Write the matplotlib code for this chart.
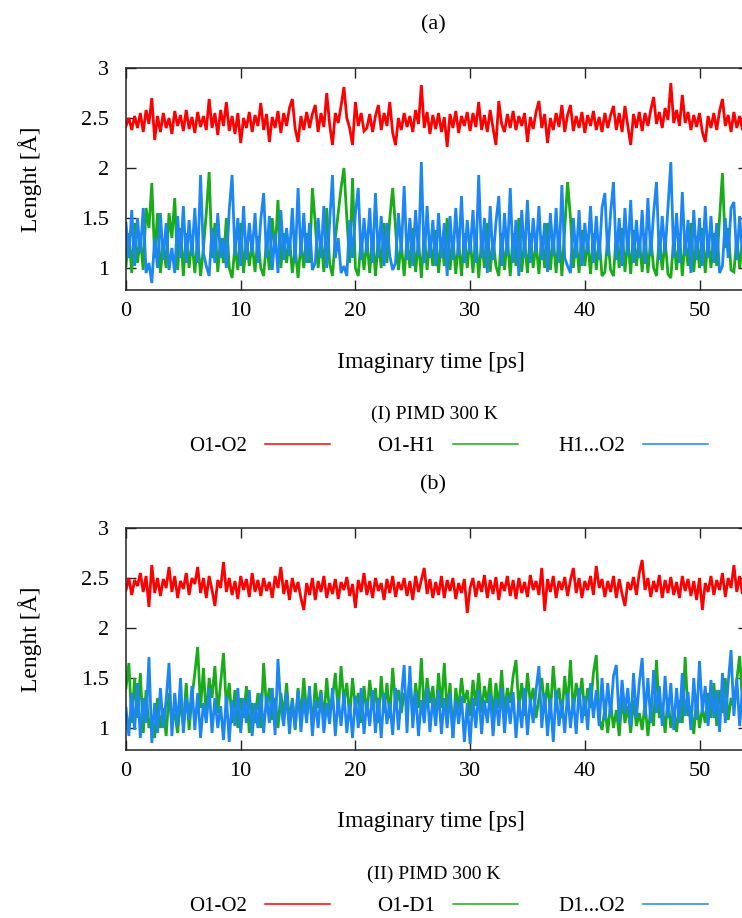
import numpy as np
import matplotlib
matplotlib.use("Agg")
import matplotlib.pyplot as plt

plt.rcParams["font.family"] = ["Liberation Serif", "DejaVu Serif"]

# ---- data (bond lengths in Angstrom, 0.25 ps steps) ----
T_END = 54.0

a_o1o2 = [
    2.42, 2.50, 2.38, 2.52, 2.40, 2.55, 2.36, 2.58, 2.44, 2.70, 2.28, 2.52,
    2.36, 2.55, 2.40, 2.50, 2.34, 2.57, 2.42, 2.53, 2.37, 2.58, 2.39, 2.51,
    2.35, 2.56, 2.41, 2.52, 2.38, 2.69, 2.40, 2.55, 2.33, 2.58, 2.42, 2.66,
    2.37, 2.52, 2.34, 2.55, 2.25, 2.50, 2.40, 2.56, 2.36, 2.53, 2.42, 2.65,
    2.38, 2.54, 2.26, 2.51, 2.40, 2.57, 2.35, 2.55, 2.42, 2.60, 2.69, 2.39,
    2.26, 2.52, 2.38, 2.56, 2.40, 2.54, 2.63, 2.36, 2.55, 2.41, 2.75, 2.44,
    2.23, 2.55, 2.45, 2.62, 2.81, 2.50, 2.40, 2.23, 2.66, 2.42, 2.55, 2.37,
    2.40, 2.54, 2.36, 2.52, 2.63, 2.38, 2.55, 2.42, 2.66, 2.35, 2.23, 2.50,
    2.38, 2.55, 2.41, 2.52, 2.36, 2.58, 2.44, 2.83, 2.40, 2.56, 2.34, 2.53,
    2.39, 2.55, 2.36, 2.51, 2.21, 2.54, 2.40, 2.57, 2.35, 2.52, 2.42, 2.56,
    2.37, 2.55, 2.41, 2.66, 2.38, 2.53, 2.36, 2.58, 2.40, 2.23, 2.67, 2.44,
    2.36, 2.54, 2.40, 2.57, 2.38, 2.52, 2.42, 2.55, 2.26, 2.51, 2.39, 2.56,
    2.67, 2.40, 2.54, 2.25, 2.50, 2.38, 2.55, 2.41, 2.63, 2.36, 2.53, 2.63,
    2.37, 2.52, 2.40, 2.56, 2.35, 2.53, 2.42, 2.57, 2.38, 2.51, 2.36, 2.55,
    2.40, 2.53, 2.62, 2.38, 2.55, 2.36, 2.62, 2.42, 2.23, 2.54, 2.40, 2.56,
    2.37, 2.55, 2.42, 2.58, 2.71, 2.44, 2.56, 2.40, 2.60, 2.48, 2.85, 2.45,
    2.58, 2.42, 2.73, 2.45, 2.56, 2.38, 2.53, 2.41, 2.55, 2.36, 2.26, 2.52,
    2.40, 2.55, 2.38, 2.57, 2.69, 2.42, 2.53, 2.36, 2.56, 2.40, 2.52, 2.38,
    2.45,
]

a_o1h1 = [
    1.02, 1.35, 0.95, 1.45, 1.05, 1.30, 0.98, 1.60, 1.40, 1.85, 1.10, 1.55,
    0.95, 1.25, 1.00, 1.55, 1.30, 1.70, 0.98, 1.40, 0.92, 1.35, 1.00, 1.28,
    0.95, 1.30, 0.92, 1.20, 1.55, 1.96, 1.10, 1.45, 0.96, 1.30, 1.05, 1.50,
    1.00, 0.90, 1.22, 0.98, 1.45, 0.95, 1.30, 1.02, 1.25, 0.96, 1.32, 1.00,
    0.92, 1.28, 0.98, 1.50, 1.15, 1.68, 1.00, 1.35, 1.05, 1.30, 0.95, 1.20,
    0.90, 1.25, 1.00, 1.35, 1.05, 1.80, 1.45, 1.00, 1.30, 0.96, 1.60, 1.05,
    0.92, 1.30, 1.55, 1.80, 2.00, 1.50, 1.05, 1.90, 1.00, 0.92, 1.30, 0.98,
    1.28, 0.95, 1.35, 0.92, 1.30, 1.00, 1.45, 1.05, 1.50, 1.80, 1.40, 0.98,
    1.25, 0.92, 1.30, 1.00, 1.40, 0.96, 1.28, 0.90, 1.35, 0.98, 1.30, 1.02,
    1.38, 0.95, 1.30, 1.02, 1.50, 0.98, 1.32, 0.94, 1.28, 0.92, 1.35, 1.00,
    1.30, 0.95, 1.35, 0.90, 1.28, 1.00, 1.45, 0.96, 1.30, 1.02, 0.92, 1.35,
    0.98, 1.30, 0.92, 1.35, 1.02, 1.50, 0.96, 1.28, 0.95, 1.35, 1.00, 1.25,
    0.94, 1.32, 1.00, 1.45, 0.98, 1.30, 0.95, 1.36, 0.92, 1.40, 1.86, 1.50,
    1.00, 1.30, 0.95, 1.38, 1.02, 1.28, 0.94, 1.35, 0.98, 1.30, 0.92, 0.96,
    1.30, 0.98, 0.92, 1.35, 1.00, 1.40, 0.96, 1.30, 0.94, 1.38, 1.02, 1.30,
    0.96, 1.35, 0.95, 1.30, 1.00, 0.92, 1.32, 0.98, 1.28, 0.94, 0.90, 1.30,
    0.98, 1.35, 0.92, 1.30, 1.02, 1.45, 0.96, 1.32, 1.00, 1.40, 0.95, 1.30,
    1.00, 1.35, 1.02, 1.50, 1.95, 1.20, 1.40, 0.98, 0.96, 1.30, 1.00, 1.28,
    1.05,
]

a_h1o2 = [
    1.45, 1.10, 1.58, 1.02, 1.50, 1.15, 1.60, 0.95, 1.05, 0.85, 1.30, 1.00,
    1.55, 1.08, 1.45, 0.98, 1.20, 0.95, 1.52, 1.10, 1.62, 1.05, 1.48, 1.12,
    1.60, 1.05, 1.93, 1.15, 1.02, 0.92, 1.40, 1.05, 1.55, 1.10, 1.30, 1.00,
    1.58, 1.93, 1.12, 1.50, 1.02, 1.62, 1.08, 1.45, 1.15, 1.55, 1.05, 1.48,
    1.75, 1.10, 1.52, 0.98, 1.35, 0.95, 1.58, 1.08, 1.40, 1.12, 1.60, 1.05,
    1.80, 1.12, 1.55, 1.05, 1.45, 0.98, 1.05, 1.50, 1.10, 1.62, 1.00, 1.45,
    1.93, 1.10, 1.30, 0.95, 1.02, 0.92, 1.48, 1.10, 1.55, 1.80, 1.08, 1.50,
    1.15, 1.60, 1.05, 1.75, 1.10, 1.52, 1.02, 1.45, 1.12, 0.98, 1.05, 1.55,
    1.15, 1.82, 1.08, 1.50, 1.02, 1.58, 1.12, 2.06, 1.05, 1.62, 1.10, 1.48,
    1.02, 1.55, 1.10, 1.45, 0.92, 1.52, 1.08, 1.60, 1.12, 1.72, 1.05, 1.48,
    1.15, 1.58, 1.05, 1.93, 1.10, 1.50, 0.95, 1.62, 1.08, 1.45, 1.72, 1.02,
    1.55, 1.12, 1.80, 1.05, 1.48, 0.92, 1.58, 1.10, 1.68, 1.05, 1.50, 1.15,
    1.62, 1.08, 1.45, 0.96, 1.55, 1.12, 1.60, 1.05, 1.83, 1.10, 1.02, 0.95,
    1.50, 1.10, 1.58, 1.02, 1.45, 1.15, 1.62, 1.05, 1.52, 1.08, 1.60, 1.75,
    1.12, 1.55, 1.86, 1.08, 1.50, 1.02, 1.60, 1.12, 1.68, 1.05, 1.48, 1.10,
    1.58, 1.04, 1.70, 1.12, 1.55, 1.86, 1.08, 1.52, 1.15, 1.60, 2.06, 1.10,
    1.55, 1.05, 1.76, 1.12, 1.48, 0.95, 1.58, 1.08, 1.50, 1.02, 1.62, 1.10,
    1.52, 1.05, 1.45, 0.95, 1.02, 1.50, 1.10, 1.60, 1.66, 1.08, 1.52, 1.12,
    1.40,
]

b_o1o2 = [
    2.38, 2.50, 2.33, 2.48, 2.42, 2.55, 2.36, 2.52, 2.21, 2.63, 2.35, 2.50,
    2.32, 2.49, 2.40, 2.61, 2.36, 2.52, 2.30, 2.47, 2.39, 2.55, 2.33, 2.50,
    2.44, 2.61, 2.35, 2.50, 2.30, 2.52, 2.38, 2.22, 2.48, 2.40, 2.66, 2.36,
    2.50, 2.33, 2.47, 2.29, 2.52, 2.38, 2.49, 2.31, 2.55, 2.36, 2.48, 2.32,
    2.50, 2.37, 2.46, 2.30, 2.52, 2.40, 2.61, 2.34, 2.48, 2.28, 2.50, 2.36,
    2.46, 2.30, 2.18, 2.45, 2.33, 2.50, 2.28, 2.47, 2.36, 2.52, 2.30, 2.45,
    2.34, 2.49, 2.29, 2.46, 2.38, 2.51, 2.32, 2.44, 2.20, 2.48, 2.36, 2.55,
    2.33, 2.47, 2.30, 2.50, 2.37, 2.45, 2.28, 2.49, 2.35, 2.52, 2.31, 2.46,
    2.38, 2.50, 2.32, 2.47, 2.28, 2.52, 2.36, 2.48, 2.60, 2.34, 2.49, 2.30,
    2.46, 2.33, 2.52, 2.30, 2.48, 2.37, 2.50, 2.29, 2.45, 2.35, 2.49, 2.15,
    2.40, 2.50, 2.31, 2.47, 2.36, 2.53, 2.30, 2.48, 2.34, 2.51, 2.28, 2.46,
    2.37, 2.52, 2.32, 2.48, 2.29, 2.50, 2.35, 2.46, 2.31, 2.53, 2.38, 2.47,
    2.33, 2.60, 2.17, 2.49, 2.36, 2.52, 2.30, 2.47, 2.38, 2.51, 2.32, 2.48,
    2.60, 2.35, 2.50, 2.30, 2.47, 2.38, 2.52, 2.33, 2.62, 2.40, 2.49, 2.31,
    2.47, 2.36, 2.52, 2.30, 2.49, 2.34, 2.22, 2.46, 2.38, 2.51, 2.33, 2.55,
    2.68, 2.38, 2.50, 2.31, 2.47, 2.36, 2.53, 2.30, 2.48, 2.35, 2.51, 2.33,
    2.46, 2.30, 2.52, 2.37, 2.49, 2.32, 2.47, 2.28, 2.50, 2.18, 2.45, 2.36,
    2.52, 2.33, 2.48, 2.38, 2.55, 2.31, 2.50, 2.40, 2.63, 2.36, 2.52, 2.34,
    2.45,
]

b_o1d1 = [
    1.40, 1.65, 1.05, 1.50, 1.10, 1.55, 0.95, 1.38, 1.00, 1.12, 0.90, 1.30,
    1.00, 1.20, 0.92, 1.35, 1.05, 1.15, 0.95, 1.28, 1.02, 1.45, 0.98, 1.30,
    1.55, 1.81, 1.20, 1.60, 1.10, 1.50, 1.30, 1.62, 1.15, 1.45, 1.75, 1.20,
    1.45, 1.05, 1.38, 1.00, 1.30, 1.10, 1.42, 0.95, 1.25, 1.05, 1.35, 1.00,
    1.65, 1.20, 1.40, 1.08, 1.30, 1.00, 1.35, 1.12, 1.45, 1.05, 1.30, 0.98,
    1.40, 1.10, 1.50, 1.15, 1.35, 1.02, 1.45, 1.20, 1.38, 1.08, 1.50, 1.15,
    1.30, 1.55, 1.15, 1.62, 1.25, 1.45, 1.10, 1.50, 1.20, 1.35, 1.05, 1.42,
    1.12, 1.48, 1.20, 1.40, 1.05, 1.52, 1.15, 1.45, 1.10, 1.60, 1.22, 1.38,
    1.15, 1.35, 1.25, 1.50, 1.10, 1.45, 1.20, 1.70, 1.15, 1.50, 1.25, 1.42,
    1.10, 1.55, 1.20, 1.65, 1.15, 1.45, 0.90, 1.40, 1.18, 1.50, 1.25, 1.38,
    1.12, 1.48, 1.22, 1.55, 1.15, 1.42, 1.25, 1.50, 1.10, 1.45, 1.20, 1.58,
    1.15, 1.40, 1.25, 1.52, 1.68, 1.20, 1.45, 1.12, 1.55, 1.25, 1.40, 1.10,
    1.30, 1.50, 1.20, 1.45, 1.15, 1.62, 1.25, 1.40, 1.10, 1.52, 1.22, 1.68,
    1.15, 1.45, 1.25, 1.50, 1.12, 1.40, 1.20, 1.55, 1.73, 1.10, 0.98, 1.20,
    0.95, 1.25, 1.00, 1.18, 0.92, 1.30, 1.05, 1.22, 0.95, 1.28, 1.02, 1.15,
    0.98, 1.25, 0.92, 1.20, 1.02, 1.68, 1.10, 1.25, 0.95, 1.30, 1.00, 1.20,
    0.96, 1.28, 1.05, 1.71, 1.12, 1.22, 0.94, 1.30, 1.00, 1.20, 1.05, 1.35,
    1.10, 1.45, 1.02, 1.38, 1.15, 1.50, 1.08, 1.30, 1.20, 1.48, 1.72, 1.25,
    1.30,
]

b_d1o2 = [
    1.20, 0.92, 1.35, 0.98, 1.45, 0.90, 1.30, 1.05, 1.71, 0.85, 1.25, 0.95,
    1.40, 1.00, 1.28, 1.65, 0.92, 1.35, 1.02, 1.50, 0.95, 1.30, 1.08, 1.42,
    0.98, 1.35, 0.90, 1.25, 1.05, 1.40, 0.95, 1.30, 1.00, 1.22, 0.88, 1.32,
    0.86, 1.28, 1.02, 1.40, 0.95, 1.30, 1.05, 1.38, 0.92, 1.25, 1.00, 1.35,
    0.95, 1.32, 1.05, 1.40, 0.93, 1.69, 1.20, 1.02, 1.36, 0.94, 1.28, 1.00,
    1.38, 0.96, 1.30, 1.05, 1.42, 0.92, 1.28, 1.00, 1.35, 0.95, 1.25, 1.04,
    1.40, 0.92, 1.30, 1.02, 1.36, 0.95, 1.25, 0.90, 1.32, 1.00, 1.40, 0.94,
    1.28, 1.02, 1.38, 0.95, 1.30, 0.90, 1.35, 1.04, 1.26, 0.93, 1.40, 0.98,
    1.30, 1.63, 0.95, 1.62, 1.00, 1.36, 0.92, 1.28, 1.05, 1.40, 0.96, 1.30,
    1.02, 1.38, 0.94, 1.30, 1.00, 1.35, 0.90, 1.28, 1.04, 1.32, 0.86, 1.25,
    0.84, 1.30, 1.00, 1.38, 0.94, 1.28, 1.05, 1.35, 0.92, 1.30, 1.02, 1.40,
    0.95, 1.32, 1.04, 1.36, 0.90, 1.28, 1.00, 1.40, 0.93, 1.30, 1.05, 1.38,
    1.62, 1.00, 1.35, 0.92, 1.30, 0.86, 1.38, 1.02, 1.28, 0.95, 1.36, 1.00,
    1.30, 0.94, 1.40, 1.05, 1.32, 0.98, 1.45, 1.10, 1.38, 1.02, 1.50, 1.08,
    1.45, 1.12, 1.52, 1.63, 1.05, 1.48, 1.15, 1.40, 1.02, 1.55, 1.10, 1.45,
    1.70, 1.12, 1.50, 1.05, 1.58, 1.15, 1.42, 1.02, 1.52, 1.10, 1.45, 0.98,
    1.40, 1.05, 1.55, 1.12, 1.36, 0.98, 1.50, 1.08, 1.67, 1.15, 1.42, 1.02,
    1.48, 1.10, 1.38, 0.96, 1.55, 1.05, 1.45, 1.78, 1.12, 1.50, 1.02, 1.40,
    1.20,
]

x_ticks = [0, 10, 20, 30, 40, 50]
y_ticks = [1, 1.5, 2, 2.5, 3]
y_ticklabels = ["1", "1.5", "2", "2.5", "3"]

panels = [
    ("(a)", "(I) PIMD 300 K",
     [(a_o1o2, "O1-O2"), (a_o1h1, "O1-H1"), (a_h1o2, "H1...O2")]),
    ("(b)", "(II) PIMD 300 K",
     [(b_o1o2, "O1-O2"), (b_o1d1, "O1-D1"), (b_d1o2, "D1...O2")]),
]
colors = ["#ff0000", "#1aab1a", "#1c86f2"]

# ---- layout (pixel based, figure is 742 x 918 at 100 dpi) ----
W, H = 742, 918
fig = plt.figure(figsize=(W / 100, H / 100), dpi=100)

px_per_ps = 11.47
ax_left = 126
ax_h = 222
ax_tops = [68, 528]
fs = 16

for (tag, title, series), top in zip(panels, ax_tops):
    bottom = top + ax_h
    ax = fig.add_axes([ax_left / W, 1 - bottom / H,
                       px_per_ps * T_END * 1.004 / W, ax_h / H])
    lines = []
    for (vals, label), c in zip(series, colors):
        t = np.linspace(0, T_END, len(vals))
        ln, = ax.plot(t, vals, color=c, lw=2.0, label=label,
                      solid_joinstyle="miter")
        lines.append(ln)

    ax.set_xlim(0, T_END * 1.004)
    ax.set_ylim(0.78, 3.0)
    ax.set_xticks(x_ticks)
    ax.set_yticks(y_ticks)
    ax.set_yticklabels(y_ticklabels)
    ax.tick_params(direction="in", length=7.5, width=1.0, labelsize=fs,
                   top=True, right=True, color="#222222")
    ax.tick_params(axis="x", pad=9)
    ax.tick_params(axis="y", pad=12)
    for sp in ax.spines.values():
        sp.set_linewidth(1.1)
        sp.set_color("#222222")

    fig.text(433 / W, 1 - (top - 43) / H, tag, ha="center", va="center",
             fontsize=fs)
    fig.text(30 / W, 1 - (top + ax_h / 2) / H, "Lenght [Å]", rotation=90,
             ha="center", va="center", fontsize=fs + 1)
    fig.text(431 / W, 1 - (bottom + 72) / H, "Imaginary time [ps]",
             ha="center", va="center", fontsize=fs + 1)
    fig.text(434 / W, 1 - (bottom + 124) / H, title, ha="center",
             va="center", fontsize=fs - 2)

    # gnuplot-style key: right-justified text followed by the line sample
    for ln, x_end in zip(lines, [330, 518, 708]):
        leg = fig.legend(handles=[ln], labels=[ln.get_label()],
                         loc="center right",
                         bbox_to_anchor=(x_end / W, 1 - (bottom + 156) / H),
                         frameon=False, markerfirst=False, fontsize=fs - 1,
                         handlelength=3.1, handletextpad=0.9, borderpad=0,
                         borderaxespad=0)
        for hl in leg.get_lines():
            hl.set_linewidth(1.1)

fig.savefig("out.png", dpi=100)
